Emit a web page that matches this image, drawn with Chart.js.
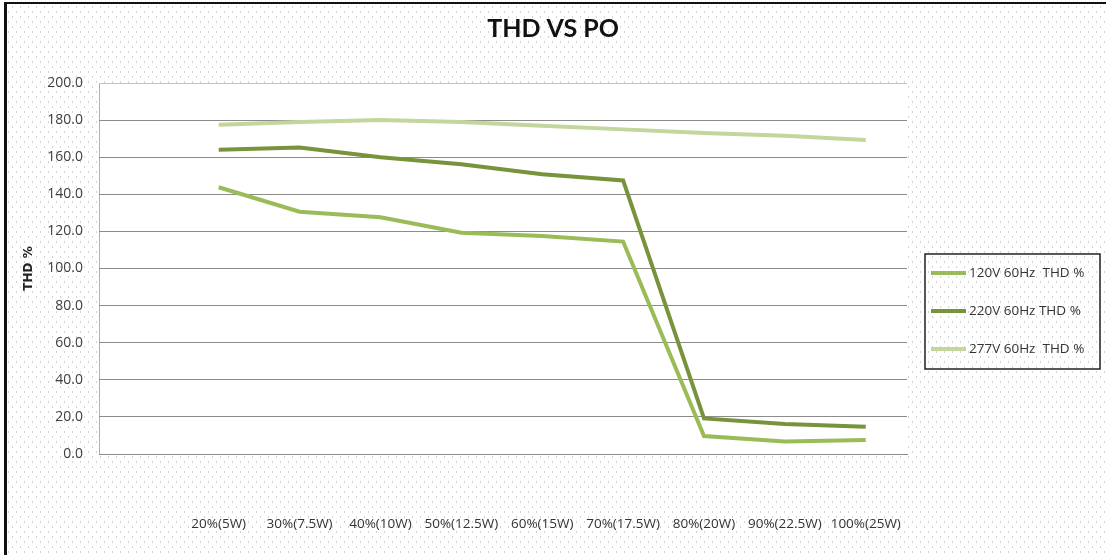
<!DOCTYPE html>
<html>
<head>
<meta charset="utf-8">
<script src="https://cdn.jsdelivr.net/npm/chart.js@4.4.1/dist/chart.umd.min.js"></script>
<style>
  html, body { margin: 0; padding: 0; background: #fff; }
  #wrap { width: 1106px; height: 555px; }
</style>
</head>
<body>
<div id="wrap"><canvas id="thdChart" width="1106" height="555"></canvas></div>
<script>
const xLabels = ['20%(5W)', '30%(7.5W)', '40%(10W)', '50%(12.5W)', '60%(15W)', '70%(17.5W)', '80%(20W)', '90%(22.5W)', '100%(25W)'];
const thd120 = [143.8, 130.6, 127.6, 119.3, 117.5, 114.5, 9.7, 6.8, 7.5];
const thd220 = [164.0, 165.2, 160.0, 156.2, 150.8, 147.5, 19.2, 16.2, 14.7];
const thd277 = [177.5, 179.0, 180.0, 179.0, 177.0, 175.0, 173.0, 171.5, 169.3];
const seriesNames = ['120V 60Hz  THD %', '220V 60Hz THD %', '277V 60Hz  THD %'];
const yTicks = [0, 20, 40, 60, 80, 100, 120, 140, 160, 180, 200];

const toPoints = (arr) => arr.map((v, i) => ({ x: i, y: v }));

// dotted page background, black frame, white plot area
const backgroundPlugin = {
  id: 'bg',
  beforeDraw(chart) {
    const ctx = chart.ctx;
    const a = chart.chartArea;
    ctx.save();
    ctx.fillStyle = '#ffffff';
    ctx.fillRect(0, 0, chart.width, chart.height);
    ctx.fillStyle = '#cfd3d3';
    for (let y = 6; y < chart.height; y += 5) {
      const shift = (Math.floor(y / 5) % 2) * 4;
      for (let x = 8 + shift; x < chart.width; x += 8) {
        ctx.fillRect(x, y, 1, 2);
      }
    }
    ctx.fillStyle = '#ffffff';
    ctx.fillRect(a.left, a.top, a.right - a.left, a.bottom - a.top);
    ctx.strokeStyle = '#b0b0b0';
    ctx.lineWidth = 1;
    ctx.beginPath();
    ctx.moveTo(a.left + 0.5, a.top);
    ctx.lineTo(a.left + 0.5, a.bottom);
    ctx.stroke();
    // frame
    ctx.fillStyle = '#111';
    ctx.fillRect(4, 2, chart.width - 4, 2);
    ctx.fillRect(4, 2, 3, chart.height - 2);
    ctx.restore();
  }
};

// boxed legend on the right, like the spreadsheet one
const legendBoxPlugin = {
  id: 'legendBox',
  afterDraw(chart) {
    const ctx = chart.ctx;
    const bx = 925, by = 254, bw = 175, bh = 115;
    ctx.save();
    ctx.strokeStyle = '#222';
    ctx.lineWidth = 1.5;
    ctx.strokeRect(bx, by, bw, bh);
    ctx.font = '13.5px "Open Sans", sans-serif';
    ctx.textBaseline = 'middle';
    chart.data.datasets.forEach((ds, i) => {
      const y = by + 19 + i * 38;
      ctx.strokeStyle = ds.borderColor;
      ctx.lineWidth = 4;
      ctx.beginPath();
      ctx.moveTo(bx + 6, y);
      ctx.lineTo(bx + 41, y);
      ctx.stroke();
      ctx.fillStyle = '#333';
      ctx.fillText(ds.label, bx + 44, y);
    });
    ctx.restore();
  }
};

const ctx = document.getElementById('thdChart').getContext('2d');
new Chart(ctx, {
  type: 'line',
  data: {
    datasets: [
      { label: seriesNames[0], data: toPoints(thd120), borderColor: '#9bbb59', borderWidth: 4 },
      { label: seriesNames[1], data: toPoints(thd220), borderColor: '#77933c', borderWidth: 4 },
      { label: seriesNames[2], data: toPoints(thd277), borderColor: '#c3d69b', borderWidth: 4 },
    ],
  },
  options: {
    responsive: false,
    animation: false,
    elements: { point: { radius: 0 }, line: { tension: 0 } },
    layout: { padding: 0 },
    plugins: {
      legend: { display: false },
      tooltip: { enabled: false },
      title: {
        display: true,
        text: 'THD VS PO',
        color: '#111',
        font: { family: 'Lato, "Open Sans", sans-serif', size: 25, weight: 'bold', lineHeight: 1.2 },
        padding: { top: 14, bottom: 39 },
      },
    },
    scales: {
      x: {
        type: 'linear',
        min: -1.48,
        max: 8.51,
        grid: { display: false },
        border: { display: true, color: '#8c8c8c' },
        afterBuildTicks: (scale) => {
          scale.ticks = xLabels.map((_, i) => ({ value: i }));
        },
        afterFit: (scale) => { scale.height = 101; },
        ticks: {
          autoSkip: false,
          maxRotation: 0,
          padding: 54,
          color: '#333',
          font: { family: '"Open Sans", sans-serif', size: 13.5 },
          callback: (value) => xLabels[value],
        },
      },
      y: {
        min: 0,
        max: 200,
        afterBuildTicks: (scale) => {
          scale.ticks = yTicks.map((v) => ({ value: v }));
        },
        afterFit: (scale) => { scale.width = 99; },
        grid: {
          drawTicks: false,
          color: (c) => (c.tick && c.tick.value === 200 ? '#c4c4c4' : '#8c8c8c'),
        },
        border: { display: false },
        title: {
          display: true,
          text: 'THD %',
          color: '#222',
          font: { family: '"DejaVu Sans", sans-serif', size: 12, weight: 'bold' },
          padding: { top: 22, bottom: 0 },
        },
        ticks: {
          padding: 16,
          color: '#404040',
          font: { family: '"Open Sans", sans-serif', size: 14 },
          callback: (value) => value.toFixed(1),
        },
      },
      // empty right-hand axis keeps room for the boxed legend
      yRight: {
        position: 'right',
        min: 0,
        max: 200,
        grid: { display: false },
        border: { display: false },
        ticks: { display: false },
        afterFit: (scale) => { scale.width = 199; },
      },
    },
  },
  plugins: [backgroundPlugin, legendBoxPlugin],
});
</script>
</body>
</html>
